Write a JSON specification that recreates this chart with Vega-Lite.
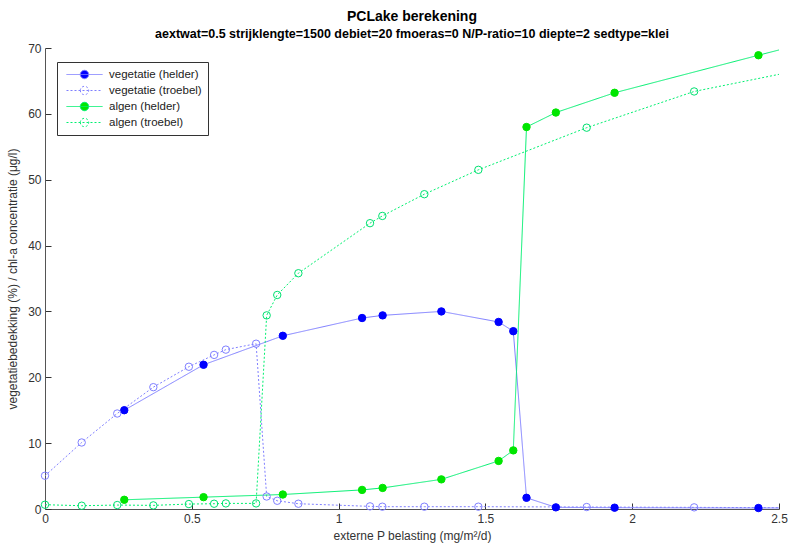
{
  "$schema": "https://vega.github.io/schema/vega-lite/v6.json",
  "autosize": "none",
  "width": 734,
  "height": 461,
  "padding": {"left": 45, "top": 48, "right": 13, "bottom": 44},
  "background": "white",
  "config": {
    "font": "Liberation Sans",
    "view": {"stroke": null},
    "axis": {
      "grid": false,
      "domainColor": "#555555",
      "ticks": true,
      "tickColor": "#333333",
      "labelColor": "#333333",
      "titleColor": "#333333",
      "labelFont": "Liberation Sans",
      "titleFont": "Liberation Sans",
      "labelFontSize": 12,
      "titleFontSize": 12,
      "titleFontWeight": "normal",
      "labelFlush": false,
      "labelOverlap": false,
      "tickSize": -6,
      "tickWidth": 1,
      "labelPadding": 10
    }
  },
  "title": {
    "text": "PCLake berekening",
    "subtitle": "aextwat=0.5 strijklengte=1500 debiet=20 fmoeras=0 N/P-ratio=10 diepte=2 sedtype=klei",
    "anchor": "middle",
    "font": "Liberation Sans",
    "fontSize": 14,
    "fontWeight": "bold",
    "color": "#000000",
    "subtitleFont": "Liberation Sans",
    "subtitleFontSize": 12.5,
    "subtitleFontWeight": "bold",
    "subtitleColor": "#000000",
    "subtitlePadding": 4,
    "offset": 2
  },
  "data": {
    "values": [
      {"s": "vegetatie (helder)", "x": 0.27, "y": 15.0},
      {"s": "vegetatie (helder)", "x": 0.54, "y": 21.9},
      {"s": "vegetatie (helder)", "x": 0.81, "y": 26.3},
      {"s": "vegetatie (helder)", "x": 1.08, "y": 29.0},
      {"s": "vegetatie (helder)", "x": 1.15, "y": 29.4},
      {"s": "vegetatie (helder)", "x": 1.35, "y": 30.0},
      {"s": "vegetatie (helder)", "x": 1.545, "y": 28.4},
      {"s": "vegetatie (helder)", "x": 1.595, "y": 27.0},
      {"s": "vegetatie (helder)", "x": 1.64, "y": 1.7},
      {"s": "vegetatie (helder)", "x": 1.74, "y": 0.25},
      {"s": "vegetatie (helder)", "x": 1.94, "y": 0.2},
      {"s": "vegetatie (helder)", "x": 2.43, "y": 0.15},
      {"s": "vegetatie (helder)", "x": 2.5, "y": 0.15},
      {"s": "vegetatie (troebel)", "x": 0, "y": 5.05},
      {"s": "vegetatie (troebel)", "x": 0.125, "y": 10.1},
      {"s": "vegetatie (troebel)", "x": 0.246, "y": 14.5},
      {"s": "vegetatie (troebel)", "x": 0.369, "y": 18.5},
      {"s": "vegetatie (troebel)", "x": 0.49, "y": 21.6},
      {"s": "vegetatie (troebel)", "x": 0.576, "y": 23.4},
      {"s": "vegetatie (troebel)", "x": 0.616, "y": 24.2},
      {"s": "vegetatie (troebel)", "x": 0.719, "y": 25.1},
      {"s": "vegetatie (troebel)", "x": 0.755, "y": 1.9},
      {"s": "vegetatie (troebel)", "x": 0.791, "y": 1.25},
      {"s": "vegetatie (troebel)", "x": 0.863, "y": 0.8},
      {"s": "vegetatie (troebel)", "x": 1.107, "y": 0.4},
      {"s": "vegetatie (troebel)", "x": 1.149, "y": 0.35},
      {"s": "vegetatie (troebel)", "x": 1.292, "y": 0.35},
      {"s": "vegetatie (troebel)", "x": 1.476, "y": 0.35},
      {"s": "vegetatie (troebel)", "x": 1.845, "y": 0.3},
      {"s": "vegetatie (troebel)", "x": 2.211, "y": 0.25},
      {"s": "vegetatie (troebel)", "x": 2.5, "y": 0.2},
      {"s": "algen (helder)", "x": 0.27, "y": 1.4},
      {"s": "algen (helder)", "x": 0.54, "y": 1.8},
      {"s": "algen (helder)", "x": 0.81, "y": 2.2},
      {"s": "algen (helder)", "x": 1.08, "y": 2.9},
      {"s": "algen (helder)", "x": 1.15, "y": 3.2},
      {"s": "algen (helder)", "x": 1.35, "y": 4.5},
      {"s": "algen (helder)", "x": 1.545, "y": 7.3},
      {"s": "algen (helder)", "x": 1.595, "y": 8.9},
      {"s": "algen (helder)", "x": 1.64, "y": 58.0},
      {"s": "algen (helder)", "x": 1.74, "y": 60.2},
      {"s": "algen (helder)", "x": 1.94, "y": 63.2},
      {"s": "algen (helder)", "x": 2.43, "y": 68.9},
      {"s": "algen (helder)", "x": 2.5, "y": 69.7},
      {"s": "algen (troebel)", "x": 0, "y": 0.65},
      {"s": "algen (troebel)", "x": 0.125, "y": 0.5},
      {"s": "algen (troebel)", "x": 0.246, "y": 0.6},
      {"s": "algen (troebel)", "x": 0.369, "y": 0.55},
      {"s": "algen (troebel)", "x": 0.49, "y": 0.75},
      {"s": "algen (troebel)", "x": 0.576, "y": 0.8},
      {"s": "algen (troebel)", "x": 0.616, "y": 0.85},
      {"s": "algen (troebel)", "x": 0.719, "y": 0.85},
      {"s": "algen (troebel)", "x": 0.755, "y": 29.4},
      {"s": "algen (troebel)", "x": 0.791, "y": 32.5},
      {"s": "algen (troebel)", "x": 0.863, "y": 35.8},
      {"s": "algen (troebel)", "x": 1.107, "y": 43.4},
      {"s": "algen (troebel)", "x": 1.149, "y": 44.5},
      {"s": "algen (troebel)", "x": 1.292, "y": 47.8},
      {"s": "algen (troebel)", "x": 1.476, "y": 51.5},
      {"s": "algen (troebel)", "x": 1.845, "y": 57.9},
      {"s": "algen (troebel)", "x": 2.211, "y": 63.4},
      {"s": "algen (troebel)", "x": 2.5, "y": 66.0}
    ]
  },
  "encoding": {
    "x": {
      "field": "x",
      "type": "quantitative",
      "scale": {"domain": [0, 2.5], "nice": false, "zero": false},
      "axis": {"values": [0, 0.5, 1, 1.5, 2, 2.5], "format": "~g", "title": "externe P belasting (mg/m²/d)", "titlePadding": 6}
    },
    "y": {
      "field": "y",
      "type": "quantitative",
      "scale": {"domain": [0, 70], "nice": false},
      "axis": {"values": [0, 10, 20, 30, 40, 50, 60, 70], "title": "vegetatiebedekking (%) / chl-a concentratie (μg/l)", "titlePadding": 8}
    }
  },
  "layer": [
    {
      "mark": {"type": "line", "strokeWidth": 1, "opacity": 1},
      "encoding": {
        "color": {
          "field": "s",
          "type": "nominal",
          "scale": {
            "domain": ["vegetatie (helder)", "vegetatie (troebel)", "algen (helder)", "algen (troebel)"],
            "range": ["#7f7fff", "#7f7fff", "#00f070", "#00f070"]
          },
          "legend": {
            "title": null,
            "orient": "none",
            "legendX": 12,
            "legendY": 14,
            "padding": 6,
            "strokeColor": "#333333",
            "fillColor": "white",
            "symbolType": "M-0.5,0L5.5,0M1.8,0A0.7,0.7,0,1,1,3.2,0A0.7,0.7,0,1,1,1.8,0Z",
            "symbolSize": 144,
            "symbolStrokeWidth": 1,
            "labelOffset": 33,
            "labelFontSize": 11.5,
            "labelFont": "Liberation Sans",
            "labelColor": "#222222",
            "rowPadding": 3,
            "encode": {
              "symbols": {
                "update": {
                  "fill": {"signal": "datum.value === 'vegetatie (helder)' ? '#0000ff' : datum.value === 'algen (helder)' ? '#00e600' : 'transparent'"},
                  "strokeDash": {"signal": "indexof(datum.value, 'troebel') >= 0 ? [2,2] : [1,0]"},
                  "opacity": {"value": 1}
                }
              }
            }
          }
        },
        "strokeDash": {
          "field": "s",
          "type": "nominal",
          "scale": {
            "domain": ["vegetatie (helder)", "vegetatie (troebel)", "algen (helder)", "algen (troebel)"],
            "range": [[1, 0], [2, 2], [1, 0], [2, 2]]
          },
          "legend": null
        }
      }
    },
    {
      "transform": [{"filter": "datum.x < 2.5"}],
      "mark": {"type": "point", "shape": "circle", "size": 55, "strokeWidth": 1, "opacity": 1},
      "encoding": {
        "stroke": {
          "field": "s",
          "type": "nominal",
          "scale": {
            "domain": ["vegetatie (helder)", "vegetatie (troebel)", "algen (helder)", "algen (troebel)"],
            "range": ["#0000ff", "#7f7fff", "#00e600", "#00e070"]
          },
          "legend": null
        },
        "fill": {
          "field": "s",
          "type": "nominal",
          "scale": {
            "domain": ["vegetatie (helder)", "vegetatie (troebel)", "algen (helder)", "algen (troebel)"],
            "range": ["#0000ff", "transparent", "#00e600", "transparent"]
          },
          "legend": null
        }
      }
    }
  ]
}
